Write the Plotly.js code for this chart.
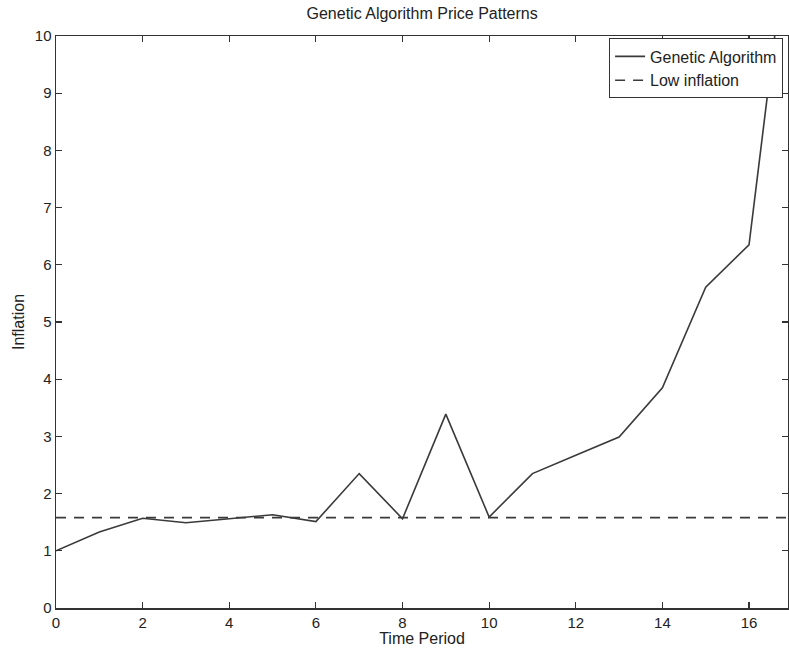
<!DOCTYPE html>
<html>
<head>
<meta charset="utf-8">
<script src="https://cdn.plot.ly/plotly-3.0.1.min.js"></script>
<style>html,body{margin:0;padding:0;background:#fff;}#chart{width:789px;height:654px;}</style>
</head>
<body>
<div id="chart"></div>
<script>
var periods = [0,1,2,3,4,5,6,7,8,9,10,11,12,13,14,15,16,17];
var geneticAlgorithm = [1.0,1.33,1.57,1.49,1.56,1.63,1.51,2.35,1.56,3.39,1.59,2.35,2.67,2.99,3.85,5.61,6.35,12.5];
var lowInflation = [1.58,1.58,1.58,1.58,1.58,1.58,1.58,1.58,1.58,1.58,1.58,1.58,1.58,1.58,1.58,1.58,1.58,1.58];
var xTicks = [0,2,4,6,8,10,12,14,16];
var yTicks = [0,1,2,3,4,5,6,7,8,9,10];

var lineColor = '#3a3a3a';
var traces = [
  {x: periods, y: geneticAlgorithm, type: 'scatter', mode: 'lines', name: 'Genetic Algorithm',
   line: {color: lineColor, width: 1.6}},
  {x: periods, y: lowInflation, type: 'scatter', mode: 'lines', name: 'Low inflation',
   line: {color: lineColor, width: 1.6, dash: '10px,8px'}}
];
var fam = 'Liberation Sans, Arial, Helvetica, sans-serif';
var layout = {
  width: 789, height: 654,
  margin: {l: 56, r: 1, t: 36, b: 46},
  paper_bgcolor: '#fff', plot_bgcolor: '#fff',
  font: {family: fam, size: 14, color: '#222'},
  showlegend: true,
  title: {text: 'Genetic Algorithm Price Patterns', font: {family: fam, size: 16, color: '#222'},
          x: 0.535, xanchor: 'center', y: 0.98, yanchor: 'middle'},
  xaxis: {range: [0, 16.9], tickvals: xTicks, ticktext: xTicks.map(String),
          ticks: 'inside', ticklen: 6, tickcolor: '#333', tickwidth: 1.2,
          showline: true, linecolor: '#333', linewidth: 1.5, mirror: 'ticks',
          showgrid: false, zeroline: false,
          tickfont: {family: fam, size: 15, color: '#222'},
          title: {text: 'Time Period', font: {family: fam, size: 16, color: '#222'}, standoff: 2}},
  yaxis: {range: [0, 10], tickvals: yTicks, ticktext: yTicks.map(String),
          ticks: 'inside', ticklen: 6, tickcolor: '#333', tickwidth: 1.2,
          showline: true, linecolor: '#333', linewidth: 1.5, mirror: 'ticks',
          showgrid: false, zeroline: false,
          tickfont: {family: fam, size: 15, color: '#222'},
          title: {text: 'Inflation', font: {family: fam, size: 16, color: '#222'}, standoff: 6}},
  legend: {x: 0.993, y: 0.996, xanchor: 'right', yanchor: 'top',
           bgcolor: '#fff', bordercolor: '#333', borderwidth: 1.2,
           font: {family: fam, size: 16, color: '#222'},
           tracegroupgap: 0, itemwidth: 30}
};
Plotly.newPlot('chart', traces, layout, {displayModeBar: false, staticPlot: true});
</script>
</body>
</html>
